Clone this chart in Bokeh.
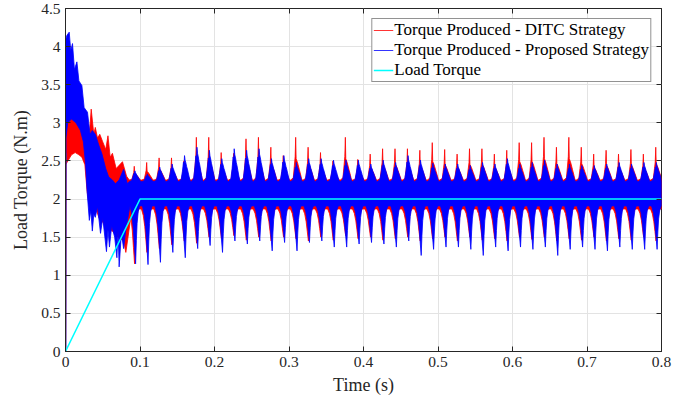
import numpy as np
from bokeh.plotting import figure
from bokeh.models import FixedTicker, LinearAxis, Legend, LegendItem, Range1d
from bokeh.embed import file_html
from bokeh.resources import INLINE

# ---------------- data ----------------
# start-up transient envelopes (s, N.m)
blue_tr_t  = [0.0005, 0.002, 0.005, 0.007, 0.0094, 0.012, 0.0153, 0.018, 0.022, 0.025, 0.0295,
              0.033, 0.036, 0.040, 0.045, 0.049, 0.054, 0.058, 0.063, 0.067, 0.072, 0.078, 0.083]
blue_tr_hi = [4.10, 4.15, 4.19, 3.95, 4.04, 3.70, 3.80, 3.55, 3.49, 3.20, 3.14,
              2.85, 2.90, 2.85, 2.70, 2.59, 2.40, 2.29, 2.25, 2.20, 2.25, 2.39, 2.20]
blue_lo_t  = [0.0005, 0.003, 0.008, 0.014, 0.020, 0.024, 0.027, 0.029, 0.032, 0.034, 0.036,
              0.038, 0.040, 0.043, 0.047, 0.050, 0.055, 0.057, 0.059, 0.062, 0.066, 0.069,
              0.0705, 0.072, 0.075, 0.078, 0.081]
blue_tr_lo = [2.80, 3.00, 3.05, 3.00, 2.90, 2.75, 2.45, 2.10, 1.72, 1.85, 1.58,
              1.80, 1.76, 1.90, 1.55, 1.75, 1.31, 1.60, 1.37, 1.65, 1.50, 1.23,
              1.60, 1.11, 1.55, 1.35, 1.60]
red_tr_t   = [0.0005, 0.002, 0.005, 0.008, 0.012, 0.016, 0.020, 0.024, 0.028, 0.031, 0.0345,
              0.038, 0.040, 0.043, 0.046, 0.050, 0.054, 0.057, 0.060, 0.063, 0.068, 0.0765, 0.082]
red_tr_hi  = [3.00, 3.30, 3.25, 3.30, 3.20, 3.15, 3.05, 2.95, 2.90, 2.70, 3.18,
              2.85, 2.94, 2.80, 2.85, 2.75, 2.65, 2.83, 2.55, 2.60, 2.40, 2.49, 2.30]
red_lo_t   = [0.0005, 0.002, 0.008, 0.013, 0.018, 0.022, 0.026, 0.029, 0.032, 0.035, 0.040,
              0.045, 0.050, 0.055, 0.063, 0.070, 0.078, 0.081]
red_tr_lo  = [2.45, 2.48, 2.58, 2.61, 2.58, 2.55, 2.45, 2.10, 1.90, 1.85, 1.90,
              1.75, 1.70, 1.60, 1.58, 1.50, 1.45, 1.30]

# steady-state: one torque ripple cycle every 1/60 s from 0.0931 s
cycle_start = 0.0931
cycle_period = 1.0 / 60.0
blue_peak = [2.37, 2.33, 2.42, 2.46, 2.57, 2.68, 2.64, 2.53, 2.66, 2.64, 2.66, 2.53, 2.57, 2.48,
             2.53, 2.53, 2.51, 2.51, 2.51, 2.46, 2.51, 2.48, 2.57, 2.51, 2.47, 2.46, 2.46, 2.44,
             2.48, 2.46, 2.53, 2.46, 2.48, 2.51, 2.46, 2.46, 2.44, 2.44, 2.46, 2.48, 2.46, 2.48, 2.48]
red_peak  = [2.43, 2.48, 2.54, 2.54, 2.50, 2.81, 2.81, 2.61, 2.60, 2.79, 2.81, 2.68, 2.57, 2.81,
             2.68, 2.61, 2.50, 2.81, 2.52, 2.59, 2.66, 2.66, 2.66, 2.64, 2.74, 2.65, 2.59, 2.66,
             2.66, 2.59, 2.64, 2.74, 2.74, 2.81, 2.68, 2.81, 2.68, 2.59, 2.64, 2.59, 2.65, 2.59, 2.68]
blue_dip  = [1.15, 1.14, 1.17, 1.30, 1.23, 1.35, 1.39, 1.30, 1.45, 1.41, 1.45, 1.32, 1.43, 1.32,
             1.43, 1.45, 1.37, 1.37, 1.41, 1.43, 1.41, 1.37, 1.45, 1.26, 1.34, 1.37, 1.37, 1.34,
             1.26, 1.37, 1.32, 1.37, 1.34, 1.37, 1.26, 1.34, 1.37, 1.34, 1.32, 1.37, 1.34, 1.34, 1.34]
red_dip   = [1.15, 1.30, 1.35, 1.40, 1.45, 1.42, 1.50, 1.48, 1.52, 1.46, 1.50, 1.45, 1.50, 1.48,
             1.45, 1.50, 1.46, 1.52, 1.48, 1.50, 1.46, 1.48, 1.50, 1.45, 1.48, 1.50, 1.45, 1.50,
             1.46, 1.48, 1.45, 1.50, 1.47, 1.50, 1.45, 1.48, 1.46, 1.50, 1.45, 1.48, 1.46, 1.50, 1.45]
blue_body_hi, blue_body_lo = 2.23, 1.91
red_body_hi, red_body_lo = 2.25, 1.87

load_t = [0.0, 0.1, 0.8]
load_v = [0.0, 2.0, 2.0]

x_ticks = [0, 0.1, 0.2, 0.3, 0.4, 0.5, 0.6, 0.7, 0.8]
x_tick_labels = ["0", "0.1", "0.2", "0.3", "0.4", "0.5", "0.6", "0.7", "0.8"]
y_ticks = [0, 0.5, 1, 1.5, 2, 2.5, 3, 3.5, 4, 4.5]
y_tick_labels = ["0", "0.5", "1", "1.5", "2", "2.5", "3", "3.5", "4", "4.5"]

legend_labels = ["Torque Produced - DITC Strategy", "Torque Produced - Proposed Strategy", "Load Torque"]
x_label = "Time (s)"
y_label = "Load Torque (N.m)"

# ---------------- envelope construction (shape of one ripple hump) ----------------
BLUE_UP = [(-0.0075, 0.0), (-0.0045, 0.08), (-0.0028, 0.40), (-0.0014, 0.75), (-0.0007, 0.65),
           (0.0, 1.0), (0.0008, 0.82), (0.0018, 0.72), (0.0028, 0.58), (0.0038, 0.48),
           (0.0050, 0.33), (0.0062, 0.18), (0.0075, 0.02)]
RED_UP = [(-0.0075, 0.0), (-0.0040, 0.05), (-0.0025, 0.35), (-0.0015, 0.55), (-0.0008, 1.0),
          (-0.0002, 0.50), (0.0018, 0.40), (0.0040, 0.25), (0.0062, 0.10), (0.0075, 0.0)]
DOWN = [(-0.0075, 0.0), (-0.0050, 0.15), (-0.0030, 0.40), (-0.0015, 0.70), (0.0, 1.0),
        (0.0010, 0.60), (0.0020, 0.30), (0.0035, 0.10), (0.0055, 0.0)]

def envelope(tr_t, tr_v, extremes, body, lag, shape, t_end_tr):
    pts = [(0.0, 0.0)] + [(t, v) for t, v in zip(tr_t, tr_v) if t <= t_end_tr]
    for k, ext in enumerate(extremes):
        tk = cycle_start + k * cycle_period + lag
        for dt, f in shape:
            t = tk + dt
            if t_end_tr < t <= 0.8:
                pts.append((t, body + f * (ext - body)))
    pts.append((0.8, body))
    return pts

def band(tr_hi_t, tr_hi, tr_lo_t, tr_lo, peaks, dips, bhi, blo, lag, up_shape, lo_lag):
    up = envelope(tr_hi_t, tr_hi, peaks, bhi, lag, up_shape, 0.0855)
    lo = envelope(tr_lo_t, tr_lo, dips, blo, lo_lag, DOWN, 0.0855)
    xs = [p[0] for p in up] + [p[0] for p in reversed(lo)]
    ys = [p[1] for p in up] + [p[1] for p in reversed(lo)]
    return xs, ys

red_x, red_y = band(red_tr_t, red_tr_hi, red_lo_t, red_tr_lo, red_peak, red_dip,
                    red_body_hi, red_body_lo, 0.0, RED_UP, -0.0004)
blue_x, blue_y = band(blue_tr_t, blue_tr_hi, blue_lo_t, blue_tr_lo, blue_peak, blue_dip,
                      blue_body_hi, blue_body_lo, 0.0, BLUE_UP, 0.0010)

# ---------------- figure ----------------
FONT = "'Liberation Serif', 'Times New Roman', serif"
AX = "#262626"

p = figure(width=691, height=401, output_backend="svg", toolbar_location=None,
           x_range=Range1d(0, 0.8), y_range=Range1d(0, 4.5),
           min_border_left=65, min_border_right=30, min_border_top=8, min_border_bottom=50,
           background_fill_color="white", border_fill_color="white")

p.patch(red_x, red_y, fill_color="#ff0000", line_color=None)
r_red = p.line(red_x, red_y, line_color="#ff0000", line_width=0.8)
p.patch(blue_x, blue_y, fill_color="#0000ff", line_color=None)
r_blue = p.line(blue_x, blue_y, line_color="#0000ff", line_width=0.8)
p.line([0, 0], [0, 2.6], line_color="#5a22a8", line_width=2)
r_load = p.line(load_t, load_v, line_color="#00ffff", line_width=1.5)

p.xaxis.ticker = FixedTicker(ticks=x_ticks)
p.yaxis.ticker = FixedTicker(ticks=y_ticks)
p.xaxis.major_label_overrides = {t: l for t, l in zip(x_ticks, x_tick_labels)}
p.yaxis.major_label_overrides = {t: l for t, l in zip(y_ticks, y_tick_labels)}
p.xaxis.axis_label = x_label
p.yaxis.axis_label = y_label

for ax in (p.xaxis[0], p.yaxis[0]):
    ax.major_tick_in = 5
    ax.major_tick_out = 0
    ax.minor_tick_line_color = None
    ax.axis_line_color = AX
    ax.major_tick_line_color = AX
    ax.major_label_text_font = FONT
    ax.major_label_text_font_size = "15.5px"
    ax.major_label_text_color = AX
    ax.axis_label_text_font = FONT
    ax.axis_label_text_font_size = "18px"
    ax.axis_label_text_font_style = "normal"
    ax.axis_label_text_color = AX
p.xaxis.major_label_standoff = 5
p.yaxis.major_label_standoff = 5
p.xaxis.axis_label_standoff = 5
p.yaxis.axis_label_standoff = 7

for side, ticks in (("above", x_ticks), ("right", y_ticks)):
    a = LinearAxis(ticker=FixedTicker(ticks=ticks),
                   major_label_overrides={t: "" for t in ticks},
                   major_tick_in=5, major_tick_out=0,
                   minor_tick_line_color=None, axis_line_color=None,
                   major_tick_line_color=AX, major_label_standoff=0)
    p.add_layout(a, side)

p.grid.grid_line_color = "#e3e3e3"
p.grid.grid_line_width = 1
p.outline_line_color = AX
p.outline_line_width = 1

legend = Legend(items=[LegendItem(label=legend_labels[0], renderers=[r_red]),
                       LegendItem(label=legend_labels[1], renderers=[r_blue]),
                       LegendItem(label=legend_labels[2], renderers=[r_load])],
                location="top_right")
legend.label_text_font = FONT
legend.label_text_font_size = "17px"
legend.label_text_color = "black"
legend.glyph_width = 20
legend.glyph_height = 20
legend.label_height = 20
legend.label_standoff = 1
legend.spacing = 0
legend.padding = 1
legend.margin = 10
legend.border_line_color = AX
legend.border_line_width = 1
legend.background_fill_alpha = 1
p.add_layout(legend, "center")

open("out.html", "w").write(file_html(p, INLINE))
